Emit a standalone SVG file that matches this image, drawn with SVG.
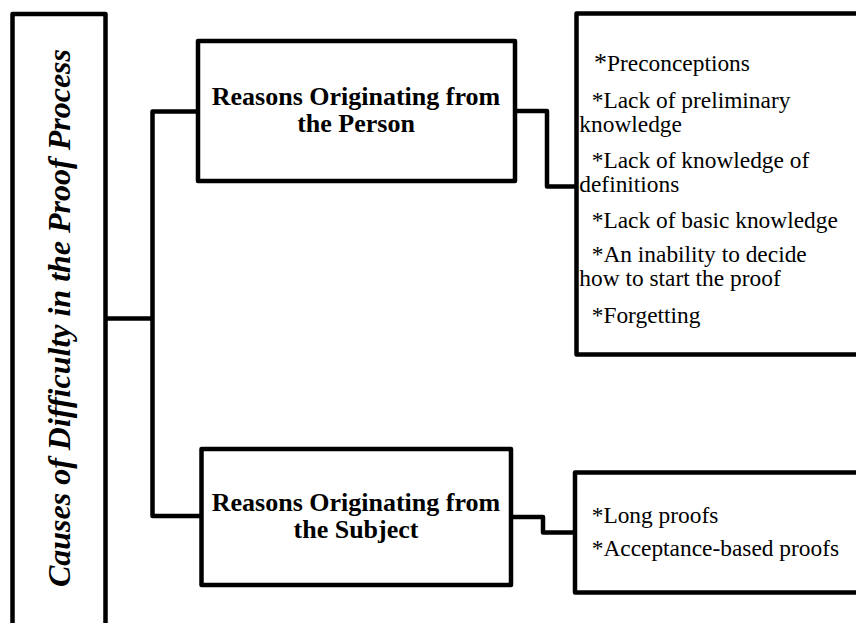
<svg xmlns="http://www.w3.org/2000/svg" width="856" height="623" viewBox="0 0 856 623">
  <style>
    .box { fill: #ffffff; stroke: #000000; stroke-width: 4.5; stroke-linejoin: round; }
    .conn { fill: none; stroke: #000000; stroke-width: 4.5; stroke-linejoin: round; }
    .title { font-weight: bold; font-style: italic; font-size: 32px; fill: #000000; }
    .head { font-weight: bold; font-size: 26px; fill: #000000; text-anchor: middle; }
    .item { font-size: 23.4px; fill: #000000; }
  </style>
  <rect width="856" height="623" fill="#ffffff"/>
  <g id="connectors">
    <polyline class="conn" points="105.5,318.5 152.5,318.5"/>
    <polyline class="conn" points="198,111.5 152.5,111.5 152.5,516 201.5,516"/>
    <polyline class="conn" points="515,111 547,111 547,186.5 576.5,186.5"/>
    <polyline class="conn" points="511,517 543,517 543,532.5 575,532.5"/>
  </g>
  <g font-family="'Liberation Serif', 'DejaVu Serif', serif">
  <g id="root">
    <rect class="box" x="12.5" y="14" width="93" height="640"/>
    <text class="title" transform="translate(70,318) rotate(-90)" text-anchor="middle">Causes of Difficulty in the Proof Process</text>
  </g>
  <g id="person">
    <rect class="box" x="198" y="41" width="317" height="140"/>
    <text class="head" x="356" y="105">Reasons Originating from</text>
    <text class="head" x="356" y="132">the Person</text>
  </g>
  <g id="subject">
    <rect class="box" x="201.5" y="449" width="309.5" height="136"/>
    <text class="head" x="356" y="511">Reasons Originating from</text>
    <text class="head" x="356" y="538">the Subject</text>
  </g>
  <g id="person-items">
    <rect class="box" x="576.5" y="13.5" width="300" height="341"/>
    <text class="item" x="594" y="70.7"><tspan font-size="26px">*</tspan>Preconceptions</text>
    <text class="item" x="591.7" y="108">*Lack of preliminary</text>
    <text class="item" x="579.3" y="131.7">knowledge</text>
    <text class="item" x="591.7" y="168.3">*Lack of knowledge of</text>
    <text class="item" x="579.3" y="191.7">definitions</text>
    <text class="item" x="591.7" y="228.3">*Lack of basic knowledge</text>
    <text class="item" x="591.7" y="261.7">*An inability to decide</text>
    <text class="item" x="579.3" y="285.7">how to start the proof</text>
    <text class="item" x="591.7" y="323.3">*Forgetting</text>
  </g>
  <g id="subject-items">
    <rect class="box" x="575" y="472.5" width="300" height="120"/>
    <text class="item" x="591.7" y="523.3">*Long proofs</text>
    <text class="item" x="591.7" y="556">*Acceptance-based proofs</text>
  </g>
  </g>
</svg>
